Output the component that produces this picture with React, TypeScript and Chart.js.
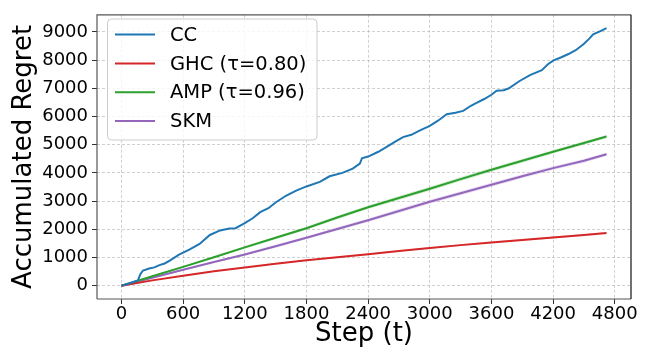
import React, { useEffect, useRef } from "react";
import { Chart, registerables } from "chart.js";

Chart.register(...registerables);

// ---------- data ----------
const xTickValues = [0, 600, 1200, 1800, 2400, 3000, 3600, 4200, 4800];
const yTickValues = [0, 1000, 2000, 3000, 4000, 5000, 6000, 7000, 8000, 9000];

const ccSteps = [0, 80, 160, 185, 210, 270, 320, 370, 420, 470, 560, 660, 760, 860, 960, 1050, 1110, 1200, 1280, 1350, 1430, 1500, 1600, 1700, 1800, 1930, 2025, 2150, 2250, 2320, 2340, 2400, 2500, 2580, 2660, 2740, 2820, 2900, 3000, 3080, 3165, 3250, 3325, 3400, 3455, 3530, 3600, 3650, 3720, 3770, 3870, 3975, 4090, 4150, 4200, 4280, 4350, 4420, 4495, 4550, 4590, 4650, 4720];
const ccValues = [0, 90, 190, 420, 540, 610, 650, 730, 790, 890, 1100, 1280, 1480, 1800, 1960, 2030, 2040, 2220, 2400, 2610, 2750, 2950, 3190, 3370, 3520, 3680, 3880, 4000, 4150, 4330, 4520, 4580, 4750, 4920, 5100, 5270, 5350, 5500, 5670, 5850, 6080, 6130, 6200, 6380, 6480, 6620, 6770, 6910, 6930, 7000, 7250, 7465, 7640, 7850, 7980, 8100, 8215, 8350, 8560, 8750, 8910, 9010, 9130];

const smoothSteps = [0, 300, 600, 900, 1200, 1500, 1800, 2100, 2400, 2700, 3000, 3300, 3600, 3900, 4200, 4500, 4720];
const ghcValues = [0, 190, 357, 510, 645, 780, 900, 1010, 1120, 1230, 1340, 1440, 1535, 1625, 1710, 1800, 1870];
const ampValues = [0, 335, 670, 1010, 1360, 1700, 2040, 2420, 2785, 3110, 3440, 3780, 4110, 4430, 4750, 5060, 5290];
const skmValues = [0, 285, 565, 840, 1110, 1400, 1700, 2010, 2320, 2650, 2980, 3280, 3580, 3880, 4170, 4430, 4660];

const ghcBand = [0, 10, 15, 18, 20, 22, 24, 25, 26, 27, 28, 29, 30, 31, 32, 33, 34];
const ampBand = [0, 20, 30, 38, 45, 50, 55, 60, 64, 68, 72, 72, 70, 66, 62, 60, 58];
const skmBand = [0, 20, 30, 38, 45, 50, 55, 60, 64, 68, 72, 74, 72, 70, 68, 66, 64];

const seriesLabels = ["CC", "GHC (τ=0.80)", "AMP (τ=0.96)", "SKM"];
const seriesColors = ["#1f77b4", "#d62728", "#2ca02c", "#9467bd"];
const bandColors = ["rgba(31,119,180,0.2)", "rgba(214,39,40,0.2)", "rgba(44,160,44,0.2)", "rgba(148,103,189,0.2)"];

const FONT = "'DejaVu Sans', sans-serif";

function pts(xs: number[], ys: number[]) {
  return xs.map((x, i) => ({ x, y: ys[i] }));
}
function ptsOff(xs: number[], ys: number[], d: number[], sign: number) {
  return xs.map((x, i) => ({ x, y: ys[i] + sign * d[i] }));
}

const legendPlugin = {
  id: "mplLegend",
  afterDatasetsDraw(chart: any) {
    const ctx = chart.ctx;
    const x0 = 107.5, y0 = 19, w = 209.5, h = 121, r = 4;
    ctx.save();
    ctx.beginPath();
    ctx.moveTo(x0 + r, y0);
    ctx.lineTo(x0 + w - r, y0);
    ctx.arcTo(x0 + w, y0, x0 + w, y0 + r, r);
    ctx.lineTo(x0 + w, y0 + h - r);
    ctx.arcTo(x0 + w, y0 + h, x0 + w - r, y0 + h, r);
    ctx.lineTo(x0 + r, y0 + h);
    ctx.arcTo(x0, y0 + h, x0, y0 + h - r, r);
    ctx.lineTo(x0, y0 + r);
    ctx.arcTo(x0, y0, x0 + r, y0, r);
    ctx.closePath();
    ctx.fillStyle = "rgba(255,255,255,0.8)";
    ctx.fill();
    ctx.strokeStyle = "#cccccc";
    ctx.lineWidth = 1;
    ctx.stroke();
    ctx.font = `19.5px ${FONT}`;
    ctx.textBaseline = "middle";
    ctx.textAlign = "left";
    const rowY = [34.5, 63.5, 92.3, 121];
    seriesLabels.forEach((lab, i) => {
      ctx.beginPath();
      ctx.strokeStyle = seriesColors[i];
      ctx.lineWidth = 2;
      ctx.moveTo(115, rowY[i]);
      ctx.lineTo(155, rowY[i]);
      ctx.stroke();
      ctx.fillStyle = "#000";
      ctx.fillText(lab, 170, rowY[i] + 1);
    });
    ctx.restore();
  },
};

const framePlugin = {
  id: "frame",
  afterDraw(chart: any) {
    const { ctx, chartArea: a } = chart;
    ctx.save();
    ctx.lineWidth = 1.2;
    ctx.strokeStyle = "#555";
    ctx.beginPath();
    ctx.moveTo(a.left, a.bottom);
    ctx.lineTo(a.left, a.top);
    ctx.lineTo(a.right, a.top);
    ctx.moveTo(a.left, a.bottom);
    ctx.lineTo(a.right, a.bottom);
    ctx.stroke();
    ctx.strokeStyle = "#111";
    ctx.beginPath();
    ctx.moveTo(a.right, a.top);
    ctx.lineTo(a.right, a.bottom);
    ctx.stroke();
    ctx.restore();
  },
};

export default function App() {
  const ref = useRef<HTMLCanvasElement | null>(null);
  useEffect(() => {
    if (!ref.current) return;
    const lineDs = (label: string, data: any[], color: string, order: number) => ({
      label,
      data,
      borderColor: color,
      backgroundColor: color,
      borderWidth: 2,
      pointRadius: 0,
      tension: 0,
      fill: false,
      order,
    });
    const bandDs = (data: any[], color: string, fill: any) => ({
      label: "_band",
      data,
      borderWidth: 0,
      borderColor: "rgba(0,0,0,0)",
      backgroundColor: color,
      pointRadius: 0,
      fill,
      order: 10,
    });
    const datasets: any[] = [
      bandDs(ptsOff(smoothSteps, ghcValues, ghcBand, -1), bandColors[1], false),
      bandDs(ptsOff(smoothSteps, ghcValues, ghcBand, 1), bandColors[1], "-1"),
      bandDs(ptsOff(smoothSteps, ampValues, ampBand, -1), bandColors[2], false),
      bandDs(ptsOff(smoothSteps, ampValues, ampBand, 1), bandColors[2], "-1"),
      bandDs(ptsOff(smoothSteps, skmValues, skmBand, -1), bandColors[3], false),
      bandDs(ptsOff(smoothSteps, skmValues, skmBand, 1), bandColors[3], "-1"),
      lineDs(seriesLabels[3], pts(smoothSteps, skmValues), seriesColors[3], 4),
      lineDs(seriesLabels[2], pts(smoothSteps, ampValues), seriesColors[2], 3),
      lineDs(seriesLabels[1], pts(smoothSteps, ghcValues), seriesColors[1], 2),
      lineDs(seriesLabels[0], pts(ccSteps, ccValues), seriesColors[0], 1),
    ];
    const gridCommon = {
      color: "rgba(176,176,176,0.75)",
      lineWidth: 0.8,
      drawTicks: true,
      tickLength: 5,
      tickColor: "#333",
      tickWidth: 1,
      tickBorderDash: [],
    };
    const chart = new Chart(ref.current, {
      type: "line",
      data: { datasets },
      options: {
        animation: false,
        responsive: false,
        maintainAspectRatio: false,
        layout: { padding: { left: 0, top: 8, right: 20, bottom: 0 } },
        plugins: { legend: { display: false }, tooltip: { enabled: false } },
        scales: {
          x: {
            type: "linear",
            min: -238,
            max: 4958,
            grid: gridCommon as any,
            border: { display: false, dash: [3, 2] },
            ticks: {
              color: "#000",
              font: { family: FONT, size: 18 },
              padding: 0,
              maxRotation: 0,
              autoSkip: false,
              callback: (v: any) => String(v),
            },
            afterBuildTicks: (s: any) => {
              s.ticks = xTickValues.map((v) => ({ value: v }));
            },
            afterFit: (s: any) => {
              s.height = 55;
            },
            title: {
              display: true,
              text: "Step (t)",
              color: "#000",
              font: { family: FONT, size: 26 },
              padding: { top: 0, bottom: 4 },
            },
          },
          y: {
            type: "linear",
            min: -470,
            max: 9605,
            grid: gridCommon as any,
            border: { display: false, dash: [3, 2] },
            ticks: {
              color: "#000",
              font: { family: FONT, size: 18 },
              padding: 4,
              autoSkip: false,
              callback: (v: any) => String(v),
            },
            afterBuildTicks: (s: any) => {
              s.ticks = yTickValues.map((v) => ({ value: v }));
            },
            afterFit: (s: any) => {
              s.width = 97;
            },
            title: {
              display: true,
              text: "Accumulated Regret",
              color: "#000",
              font: { family: FONT, size: 26 },
              padding: { top: 9, bottom: 9 },
            },
          },
        },
      },
      plugins: [legendPlugin, framePlugin],
    });
    return () => chart.destroy();
  }, []);
  return (
    <div style={{ position: "fixed", left: 0, top: 0, width: 651, height: 354, background: "#fff" }}>
      <canvas ref={ref} width={651} height={354} style={{ width: 651, height: 354, display: "block" }} />
    </div>
  );
}
